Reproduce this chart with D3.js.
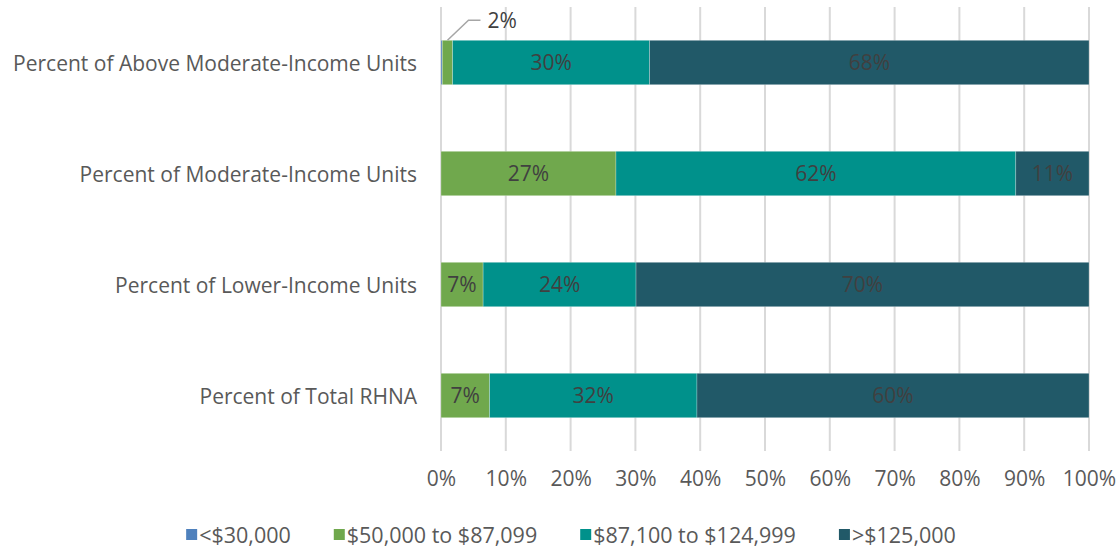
<!DOCTYPE html>
<html>
<head>
<meta charset="utf-8">
<script src="https://cdn.jsdelivr.net/npm/d3@7"></script>
<style>
  body { margin: 0; background: #fff; }
  svg { font-family: "Open Sans", Lato, sans-serif; }
</style>
</head>
<body>
<svg id="chart" width="1120" height="550"></svg>
<script>
'use strict';

// categories, top to bottom
let categories = [
  'Percent of Above Moderate-Income Units',
  'Percent of Moderate-Income Units',
  'Percent of Lower-Income Units',
  'Percent of Total RHNA',
];
let seriesNames = ['<$30,000', '$50,000 to $87,099', '$87,100 to $124,999', '>$125,000'];
let seriesColors = ['#4f81bd', '#70a84d', '#00918b', '#215968'];

// values per series, in category order (percent)
let under30k = [0.2, 0, 0, 0];
let from50k = [1.6, 27.0, 6.5, 7.5];
let from87k = [30.4, 61.7, 23.6, 32.0];
let over125k = [67.8, 11.3, 69.9, 60.5];
let segmentLabels = [
  [null, '2%', '30%', '68%'],
  [null, '27%', '62%', '11%'],
  [null, '7%', '24%', '70%'],
  [null, '7%', '32%', '60%'],
];
let xTicks = [0, 10, 20, 30, 40, 50, 60, 70, 80, 90, 100];

let svg = d3.select('#chart');
let plot = { left: 441, right: 1089, top: 7, bottom: 451 };
let font = '"Open Sans", Lato, sans-serif';

let x = d3.scaleLinear().domain([0, 100]).range([plot.left, plot.right]);
let y = d3.scaleBand().domain(categories).range([plot.top, plot.bottom]).paddingInner(0.6).paddingOuter(0.3);

let rows = categories.map((c, i) => ({
  cat: c,
  s0: under30k[i], s1: from50k[i], s2: from87k[i], s3: over125k[i],
}));
let stack = d3.stack().keys(['s0', 's1', 's2', 's3'])(rows);

// gridlines
svg.append('g')
  .selectAll('line')
  .data(xTicks)
  .enter()
  .append('line')
  .attr('x1', d => x(d))
  .attr('x2', d => x(d))
  .attr('y1', plot.top)
  .attr('y2', plot.bottom)
  .style('stroke', '#d9d9d9')
  .style('stroke-width', 2);

// bars
let layers = svg.append('g')
  .selectAll('g.layer')
  .data(stack)
  .enter()
  .append('g')
  .classed('layer', true)
  .style('fill', (d, i) => seriesColors[i]);
layers.selectAll('rect')
  .data(d => d.filter(s => s[1] > s[0]))
  .enter()
  .append('rect')
  .attr('x', d => x(d[0]))
  .attr('width', d => x(d[1]) - x(d[0]))
  .attr('y', d => y(d.data.cat))
  .attr('height', y.bandwidth())
  .style('stroke', 'rgba(255,255,255,0.35)')
  .style('stroke-width', 0.7);

// segment labels
let labelFont = 21;
stack.forEach((layer, k) => {
  layer.forEach((d, i) => {
    let txt = segmentLabels[i][k];
    if (!txt) return;
    let cy = y(d.data.cat) + y.bandwidth() / 2;
    if (d[1] - d[0] < 4) {
      // callout for a thin segment
      let px = x((d[0] + d[1]) / 2);
      let top = y(d.data.cat);
      svg.append('polyline')
        .attr('points', [[px, top], [px + 21, top - 20], [px + 33, top - 20]].map(p => p.join(',')).join(' '))
        .style('fill', 'none')
        .style('stroke', '#a6a6a6')
        .style('stroke-width', 1.5);
      svg.append('text')
        .attr('x', px + 40)
        .attr('y', top - 20)
        .attr('dy', '0.35em')
        .style('font-size', labelFont + 'px')
        .style('fill', '#404040')
        .text(txt);
      return;
    }
    svg.append('text')
      .attr('x', x((d[0] + d[1]) / 2))
      .attr('y', cy)
      .attr('dy', '0.38em')
      .style('text-anchor', 'middle')
      .style('font-size', labelFont + 'px')
      .style('fill', '#404040')
      .text(txt);
  });
});

// category axis
let yAxis = svg.append('g')
  .attr('transform', `translate(${plot.left - 24},0)`)
  .call(d3.axisLeft(y).tickSize(0).tickPadding(0));
yAxis.select('.domain').remove();
yAxis.selectAll('text')
  .attr('dy', '0.4em')
  .style('font-family', font)
  .style('font-size', '21px')
  .style('fill', '#595959');

// value axis
let xAxis = svg.append('g')
  .attr('transform', `translate(0,${plot.bottom + 20})`)
  .call(d3.axisBottom(x).tickValues(xTicks).tickSize(0).tickPadding(0).tickFormat(d => d + '%'));
xAxis.select('.domain').remove();
xAxis.selectAll('text')
  .style('font-family', font)
  .style('font-size', '21px')
  .style('fill', '#595959');

// legend
let legend = svg.append('g');
let items = legend.selectAll('g.item')
  .data(seriesNames)
  .enter()
  .append('g')
  .classed('item', true);
items.append('rect')
  .attr('width', 11)
  .attr('height', 11)
  .attr('y', -6)
  .style('fill', (d, i) => seriesColors[i]);
items.append('text')
  .attr('x', 13)
  .attr('dy', '0.35em')
  .style('font-size', '21.5px')
  .style('fill', '#595959')
  .text(d => d);
let offset = 0;
let widths = [];
items.each(function(d, i) {
  let w = 13 + d3.select(this).select('text').node().getComputedTextLength();
  widths.push(w);
});
let gap = 43;
let total = d3.sum(widths) + gap * (widths.length - 1);
let startX = 571 - total / 2;
items.attr('transform', (d, i) => {
  let tx = startX + offset;
  offset += widths[i] + gap;
  return `translate(${tx},535)`;
});
</script>
</body>
</html>
